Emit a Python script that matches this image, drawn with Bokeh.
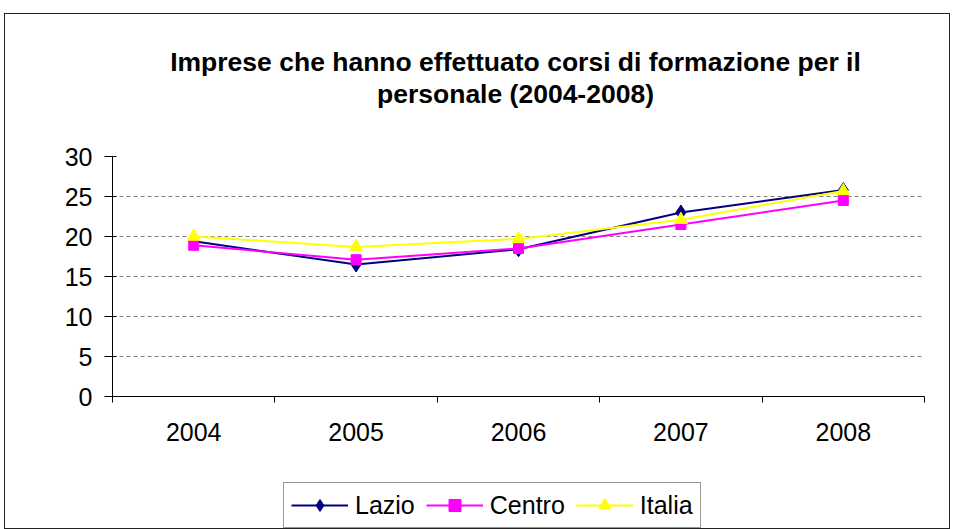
from bokeh.plotting import figure
from bokeh.layouts import column
from bokeh.models import FixedTicker, Legend, LegendItem, Range1d, Label
from bokeh.embed import file_html
from bokeh.resources import INLINE

years = ["2004", "2005", "2006", "2007", "2008"]
lazio = [19.4, 16.5, 18.4, 23.0, 25.8]
centro = [18.9, 17.1, 18.5, 21.5, 24.5]
italia = [20.0, 18.7, 19.7, 22.1, 25.7]
y_ticks = [0, 5, 10, 15, 20, 25, 30]
title_lines = ["Imprese che hanno effettuato corsi di formazione per il",
               "personale (2004-2008)"]

xpos = [i + 0.5 for i in range(len(years))]
FONT = "Liberation Sans"
W = 944

def blank_fig(h):
    f = figure(width=W, height=h, output_backend="svg", toolbar_location=None,
               min_border=0, x_axis_location=None, y_axis_location=None,
               outline_line_color=None, x_range=Range1d(0, 1), y_range=Range1d(0, 1))
    f.xgrid.visible = False
    f.ygrid.visible = False
    return f

# ---- title block (frame edges are aligned with the chart's frame by the column)
pt = blank_fig(100)
for txt, y in zip(title_lines, [53, 21]):
    pt.add_layout(Label(x=403, y=y, x_units="screen", y_units="screen", text=txt,
                        text_align="center", text_baseline="middle", text_font=FONT,
                        text_font_size="26.5px", text_font_style="bold", text_color="black"))

# ---- chart
p = figure(width=W, height=362, output_backend="svg", toolbar_location=None,
           x_range=Range1d(0, len(years)), y_range=Range1d(0, 30),
           min_border_left=107, min_border_right=25, min_border_top=42,
           min_border_bottom=80, outline_line_color=None)

xa = p.xaxis[0]
xa.ticker = FixedTicker(ticks=xpos, minor_ticks=list(range(len(years) + 1)))
xa.major_label_overrides = {x: y for x, y in zip(xpos, years)}
xa.major_tick_line_color = None
xa.major_tick_out = 0
xa.major_tick_in = 0
xa.minor_tick_out = 6
xa.minor_tick_in = 0
xa.minor_tick_line_color = "black"
xa.axis_line_color = "black"
xa.major_label_standoff = 20
xa.major_label_text_font = FONT
xa.major_label_text_font_size = "25px"
xa.major_label_text_color = "black"

ya = p.yaxis[0]
ya.ticker = FixedTicker(ticks=y_ticks)
ya.minor_tick_line_color = None
ya.major_tick_out = 8
ya.major_tick_in = 4
ya.major_tick_line_color = "black"
ya.axis_line_color = "black"
ya.major_label_standoff = 12
ya.major_label_text_font = FONT
ya.major_label_text_font_size = "25px"
ya.major_label_text_color = "black"

p.xgrid.grid_line_color = None
p.ygrid.ticker = FixedTicker(ticks=y_ticks[1:])
p.ygrid.grid_line_color = "#808080"
p.ygrid.grid_line_dash = "4 3"
p.ygrid.grid_line_width = 1

series = [("Lazio", lazio, "#000080", "diamond", 15),
          ("Centro", centro, "#FF00FF", "square", 10),
          ("Italia", italia, "#FFFF00", "triangle", 13)]

# ---- legend strip below the chart; its renderers carry the same data,
# which falls outside this strip's ranges, so only the legend shows
pl = blank_fig(52)
items = []
for name, vals, color, marker, size in series:
    p.line(xpos, vals, line_color=color, line_width=2)
    p.scatter(xpos, vals, marker=marker, size=size, fill_color=color, line_color=color)
    l = pl.line(xpos, vals, line_color=color, line_width=2)
    s = pl.scatter(xpos, vals, marker=marker, size=size, fill_color=color, line_color=color)
    items.append(LegendItem(label=name, renderers=[l, s]))

legend = Legend(items=items, orientation="horizontal", location=(171, 0),
                label_text_font=FONT, label_text_font_size="25px", label_text_color="black",
                glyph_width=57, glyph_height=30, label_standoff=7, spacing=11,
                padding=7, margin=0, border_line_color="#333333", border_line_width=1,
                background_fill_alpha=1)
pl.add_layout(legend, "center")

layout = column(pt, p, pl, spacing=0,
                styles={"border": "1px solid #222222", "margin-left": "4px", "margin-top": "13px"})

open("out.html", "w").write(file_html(layout, INLINE))
